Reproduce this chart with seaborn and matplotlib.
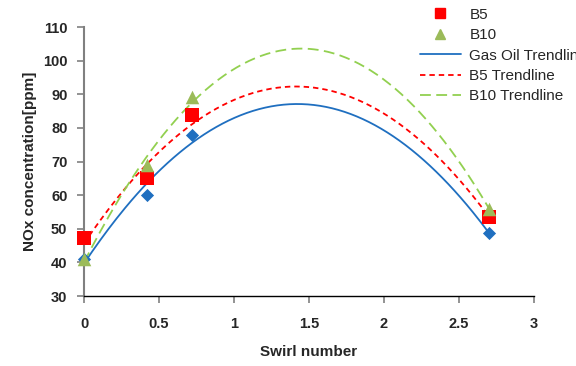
import numpy as np
import pandas as pd
import matplotlib
matplotlib.use("Agg")
import matplotlib.pyplot as plt
import seaborn as sns
from matplotlib.lines import Line2D

sns.set_style("white")
plt.rcParams['font.family'] = ['Liberation Sans', 'DejaVu Sans']

swirl = [0.0, 0.42, 0.72, 2.7]
gas_oil = [41.0, 60.0, 78.0, 48.7]
b5 = [47.2, 65.0, 84.0, 53.5]
b10 = [41.0, 69.0, 89.3, 56.0]

series = ["Gas Oil", "B5", "B10"]
values = [gas_oil, b5, b10]
mcolors = ["#1F6FC0", "#FF0000", "#9BBB59"]
lcolors = ["#1F6FC0", "#FF0000", "#92D050"]
markers = ["D", "s", "^"]
msizes = [45, 100, 95]
dashes = [(None, None), (3, 2.2), (6, 3)]

fig = plt.figure(figsize=(5.76, 3.66), dpi=100)
ax = fig.add_axes([0.146, 0.191, 0.781, 0.735])

xs = np.linspace(0, 2.7, 200)
for name, v, mc, m, s in zip(series, values, mcolors, markers, msizes):
    df = pd.DataFrame({"x": swirl, "y": v})
    sns.scatterplot(data=df, x="x", y="y", marker=m, s=s, color=mc, edgecolor=mc,
                    linewidth=0, ax=ax, zorder=3)
for coll in ax.collections:
    coll.set_clip_on(False)
for name, v, lc, d in zip(series, values, lcolors, dashes):
    coef = np.polyfit(swirl, v, 2)
    tdf = pd.DataFrame({"x": xs, "y": np.polyval(coef, xs)})
    sns.lineplot(data=tdf, x="x", y="y", color=lc, lw=1.3, ax=ax, zorder=2)
    line = ax.lines[-1]
    if d[0] is not None:
        line.set_dashes(d)

ax.set_xlim(0, 3)
ax.set_ylim(30, 110)
ax.set_xticks([0, 0.5, 1, 1.5, 2, 2.5, 3])
ax.set_xticklabels(["0", "0.5", "1", "1.5", "2", "2.5", "3"])
ax.set_yticks(range(30, 111, 10))
for sp in ["top", "right"]:
    ax.spines[sp].set_visible(False)
ax.spines["left"].set_color("#808080")
ax.spines["left"].set_linewidth(1.5)
ax.spines["bottom"].set_color("black")
ax.spines["bottom"].set_linewidth(1.0)
ax.tick_params(axis="both", direction="out", length=5, width=1.2, color="#808080",
               labelsize=10.5, bottom=True, left=True)
ax.tick_params(axis="x", pad=10)
ax.tick_params(axis="y", pad=7)
for lab in ax.get_xticklabels() + ax.get_yticklabels():
    lab.set_fontweight("bold")
ax.set_xlabel("Swirl number", fontsize=11, fontweight="bold", labelpad=10)
ax.set_ylabel("NOx concentration[ppm]", fontsize=11, fontweight="bold", labelpad=4)

leg_handles = [
    Line2D([], [], ls="none", marker="D", color=mcolors[0], ms=6),
    Line2D([], [], ls="none", marker="s", color=mcolors[1], ms=7),
    Line2D([], [], ls="none", marker="^", color=mcolors[2], ms=7),
    Line2D([], [], color=lcolors[0], lw=1.3),
    Line2D([], [], color=lcolors[1], lw=1.3, dashes=dashes[1]),
    Line2D([], [], color=lcolors[2], lw=1.3, dashes=dashes[2]),
]
leg_labels = ["Gas Oil", "B5", "B10", "Gas Oil Trendline", "B5 Trendline", "B10 Trendline"]
fig.legend(leg_handles, leg_labels, loc="lower left", bbox_to_anchor=(0.705, 0.68),
           frameon=False, fontsize=11, handlelength=2.7, labelspacing=0.42,
           handletextpad=0.55)

fig.savefig("out.png", dpi=100)
